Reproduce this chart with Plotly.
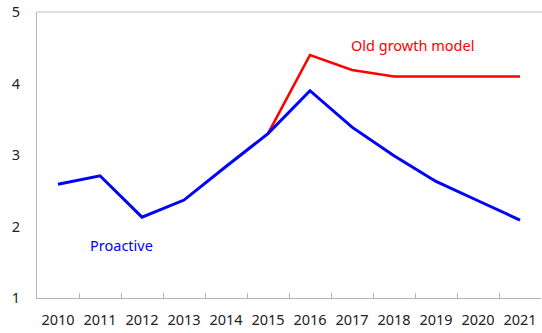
import plotly.graph_objects as go

years = [2010, 2011, 2012, 2013, 2014, 2015, 2016, 2017, 2018, 2019, 2020, 2021]
year_labels = ["2010", "2011", "2012", "2013", "2014", "2015", "2016", "2017", "2018", "2019", "2020", "2021"]
proactive = [2.59, 2.71, 2.13, 2.37, 2.84, 3.30, 3.90, 3.39, 2.99, 2.63, 2.36, 2.09]
old_growth = [None, None, None, None, None, 3.30, 4.40, 4.19, 4.10, 4.10, 4.10, 4.10]
y_ticks = [1, 2, 3, 4, 5]
boundaries = [y + 0.5 for y in years[:-1]]

font = "Noto Sans"

fig = go.Figure()
fig.add_trace(go.Scatter(x=years, y=old_growth, mode="lines",
                         line=dict(color="#FF0000", width=2.6), showlegend=False))
fig.add_trace(go.Scatter(x=years, y=proactive, mode="lines",
                         line=dict(color="#0000FF", width=3), showlegend=False))

fig.add_annotation(x=2018.45, y=4.54, xref="x", yref="y", text="Old growth model",
                   showarrow=False, font=dict(color="#FF0000", size=14.5, family=font))
fig.add_annotation(x=2011.5, y=1.74, xref="x", yref="y", text="Proactive",
                   showarrow=False, font=dict(color="#0000FF", size=14.5, family=font))

fig.add_shape(type="line", xref="paper", yref="paper", x0=0, x1=1.01, y0=1, y1=1,
              line=dict(color="#D6D6D6", width=1.5))

fig.update_layout(
    width=542, height=333,
    margin=dict(l=37, r=1, t=9, b=35),
    paper_bgcolor="white", plot_bgcolor="white",
    font=dict(family=font, size=13, color="#222222"),
    xaxis=dict(range=[2009.5, 2021.5], tickvals=years, ticktext=year_labels,
               ticks="outside", ticklen=9, tickcolor="rgba(0,0,0,0)",
               minor=dict(tickvals=boundaries, ticks="inside", ticklen=5, tickcolor="#B5B5B5", showgrid=False),
               showline=True, linecolor="#B5B5B5", linewidth=1,
               showgrid=False, zeroline=False, tickfont=dict(size=14.5),
               ticklabeloverflow="allow"),
    yaxis=dict(range=[0.999, 5.002], tickvals=y_ticks, showline=True, linecolor="#B5B5B5",
               linewidth=1, showgrid=False, zeroline=False,
               ticks="outside", ticklen=13, tickcolor="rgba(0,0,0,0)",
               tickfont=dict(size=14.5), ticklabeloverflow="allow"),
)

fig.write_html("out.html", config={"displayModeBar": False},
               post_script="document.body.style.margin='0';document.body.style.overflow='hidden';")
